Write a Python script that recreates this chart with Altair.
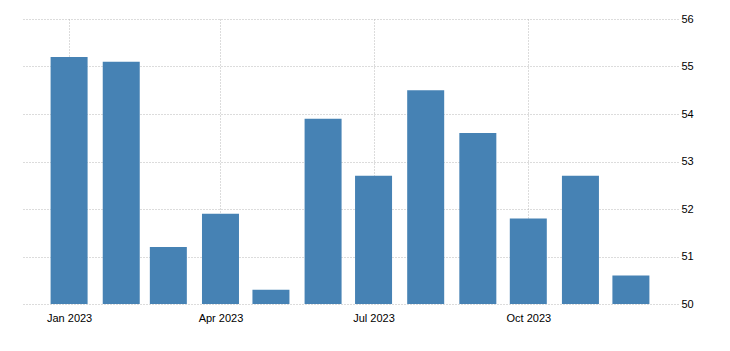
import altair as alt
import pandas as pd

months = ["2023-01-01", "2023-02-01", "2023-03-01", "2023-04-01", "2023-05-01", "2023-06-01",
          "2023-07-01", "2023-08-01", "2023-09-01", "2023-10-01", "2023-11-01", "2023-12-01"]
values = [55.2, 55.1, 51.2, 51.9, 50.3, 53.9, 52.7, 54.5, 53.6, 51.8, 52.7, 50.6]
y_ticks = [50, 51, 52, 53, 54, 55, 56]

df = pd.DataFrame({"date": months, "value": values})

x_ticks = [alt.DateTime(year=2023, month=m, date=1, utc=True) for m in (1, 4, 7, 10)]

FONT = "Liberation Sans"

chart = alt.Chart(df).mark_bar(size=37, color="#4682B4").encode(
    x=alt.X("date:T",
            scale=alt.Scale(type="utc", padding=0,
                            domain=[alt.DateTime(year=2022, month=12, date=4, utc=True),
                                    alt.DateTime(year=2023, month=12, date=29, utc=True)]),
            axis=alt.Axis(title=None, values=x_ticks, format="%b %Y", domain=False, ticks=False,
                          labelPadding=8, grid=True, gridDash=[1, 2], gridColor="#b8b8b8",
                          labelFont=FONT, labelFontSize=11, labelColor="#000000")),
    y=alt.Y("value:Q",
            scale=alt.Scale(domain=[50, 56], zero=False, nice=False),
            axis=alt.Axis(title=None, orient="right", values=y_ticks, domain=False, ticks=False,
                          labelPadding=3, grid=True, gridDash=[1, 2], gridColor="#b8b8b8",
                          labelFont=FONT, labelFontSize=11, labelColor="#000000")),
    y2=alt.datum(50),
).properties(
    width=656, height=285,
    autosize=alt.AutoSizeParams(type="none"),
    padding={"left": 22, "top": 19, "right": 52, "bottom": 47},
).configure_view(stroke=None)

chart.save("out.html", embed_options={"renderer": "svg", "actions": False})
